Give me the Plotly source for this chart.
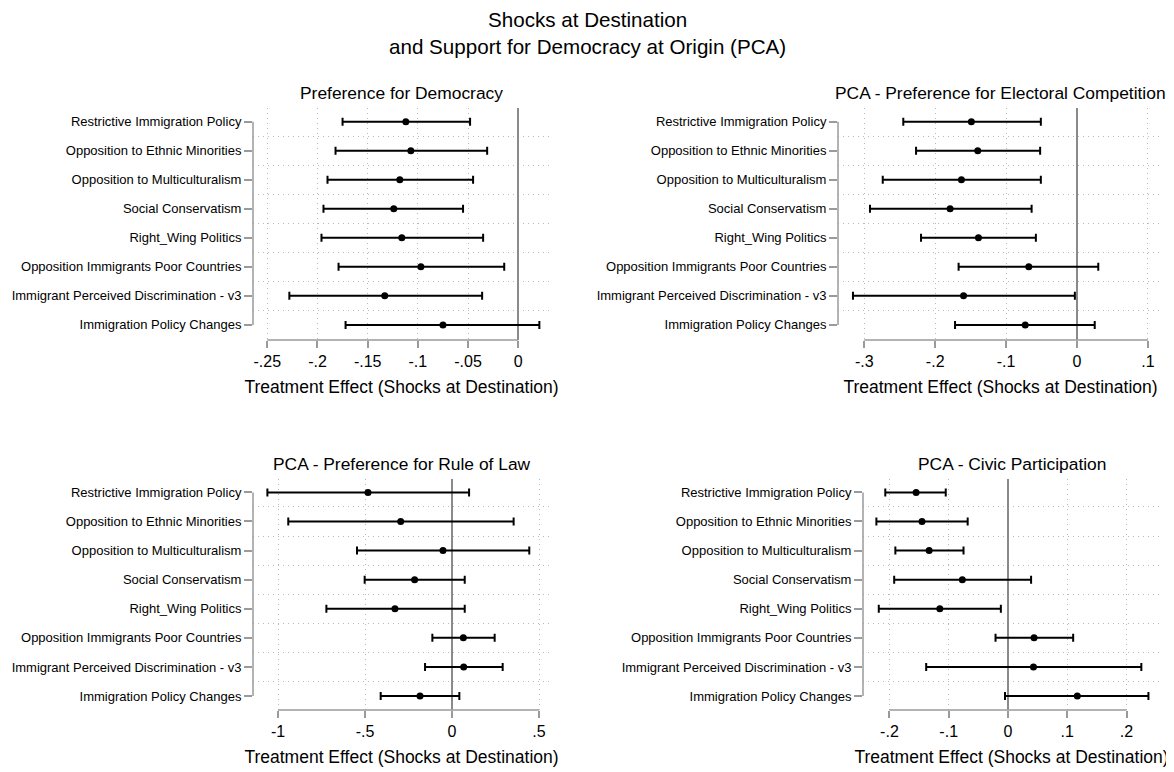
import plotly.graph_objects as go

# page offset (browser body margin) and figure size
OFF = 8
W, H = 1174 - OFF, 772 - OFF

categories = [
    "Restrictive Immigration Policy",
    "Opposition to Ethnic Minorities",
    "Opposition to Multiculturalism",
    "Social Conservatism",
    "Right_Wing Politics",
    "Opposition Immigrants Poor Countries",
    "Immigrant Perceived Discrimination - v3",
    "Immigration Policy Changes",
]

panel_titles = [
    "Preference for Democracy",
    "PCA - Preference for Electoral Competition",
    "PCA - Preference for Rule of Law",
    "PCA - Civic Participation",
]

# Panel 1: Preference for Democracy
dem_est = [-0.112, -0.107, -0.118, -0.124, -0.116, -0.097, -0.133, -0.075]
dem_lo = [-0.175, -0.182, -0.190, -0.194, -0.196, -0.179, -0.228, -0.172]
dem_hi = [-0.048, -0.031, -0.045, -0.055, -0.035, -0.014, -0.036, 0.021]

# Panel 2: Electoral Competition
ele_est = [-0.149, -0.140, -0.163, -0.179, -0.139, -0.068, -0.160, -0.073]
ele_lo = [-0.245, -0.227, -0.274, -0.292, -0.220, -0.167, -0.316, -0.172]
ele_hi = [-0.051, -0.052, -0.051, -0.064, -0.058, 0.030, -0.003, 0.025]

# Panel 3: Rule of Law
law_est = [-0.483, -0.295, -0.052, -0.215, -0.328, 0.065, 0.067, -0.184]
law_lo = [-1.061, -0.941, -0.546, -0.502, -0.722, -0.113, -0.155, -0.410]
law_hi = [0.098, 0.354, 0.444, 0.073, 0.073, 0.245, 0.291, 0.042]

# Panel 4: Civic Participation
civ_est = [-0.155, -0.145, -0.133, -0.077, -0.115, 0.044, 0.043, 0.117]
civ_lo = [-0.207, -0.222, -0.190, -0.192, -0.218, -0.021, -0.138, -0.005]
civ_hi = [-0.105, -0.068, -0.075, 0.039, -0.012, 0.110, 0.225, 0.237]

tick_vals = [
    [-0.25, -0.2, -0.15, -0.1, -0.05, 0],
    [-0.3, -0.2, -0.1, 0, 0.1],
    [-1, -0.5, 0, 0.5],
    [-0.2, -0.1, 0, 0.1, 0.2],
]
tick_text = [
    ["-.25", "-.2", "-.15", "-.1", "-.05", "0"],
    ["-.3", "-.2", "-.1", "0", ".1"],
    ["-1", "-.5", "0", ".5"],
    ["-.2", "-.1", "0", ".1", ".2"],
]

# layout geometry (page pixels)
x_dom_px = [(253, 550), (838, 1163), (253, 550), (863, 1160)]
x_ranges = [(-0.2642, 0.0316), (-0.3371, 0.1213), (-1.1437, 0.563), (-0.2446, 0.2565)]
y_dom_px = [(108, 340), (108, 340), (479, 710), (479, 710)]
y_ranges = [(7.52, -0.47), (7.52, -0.47), (7.48, -0.46), (7.48, -0.46)]


def px_x(x):
    return (x - OFF) / W


def px_y(y):
    return 1 - (y - OFF) / H


est_list = [dem_est, ele_est, law_est, civ_est]
lo_list = [dem_lo, ele_lo, law_lo, civ_lo]
hi_list = [dem_hi, ele_hi, law_hi, civ_hi]

FONT = "Liberation Sans, Arial, Helvetica, sans-serif"
AXC = "#9a9a9a"
GRIDC = "#b8b8b8"
GRIDDASH = "1px,4px"

fig = go.Figure()
layout = dict(
    width=W, height=H, autosize=False,
    margin=dict(l=0, r=0, t=0, b=0),
    paper_bgcolor="white", plot_bgcolor="white",
    font=dict(family=FONT, color="black"),
    showlegend=False,
)
annotations = []
shapes = []

ypos = list(range(len(categories)))

for i in range(4):
    xa = "x" if i == 0 else f"x{i+1}"
    ya = "y" if i == 0 else f"y{i+1}"
    xkey = "xaxis" if i == 0 else f"xaxis{i+1}"
    ykey = "yaxis" if i == 0 else f"yaxis{i+1}"
    est, lo, hi = est_list[i], lo_list[i], hi_list[i]
    plus = [h - e for h, e in zip(hi, est)]
    minus = [e - l for e, l in zip(est, lo)]
    fig.add_trace(go.Scatter(
        x=est, y=ypos, xaxis=xa, yaxis=ya, mode="markers",
        marker=dict(color="black", size=7),
        error_x=dict(type="data", symmetric=False, array=plus, arrayminus=minus,
                     color="black", thickness=2, width=4),
        hoverinfo="skip",
    ))
    x0, x1 = x_dom_px[i]
    yt, yb = y_dom_px[i]
    layout[xkey] = dict(
        domain=[px_x(x0), px_x(x1)], range=list(x_ranges[i]), anchor=ya,
        tickmode="array", tickvals=tick_vals[i], ticktext=tick_text[i],
        ticks="outside", ticklen=7, tickcolor=AXC, tickwidth=1.5,
        tickfont=dict(size=16, family=FONT),
        showgrid=True, gridcolor=GRIDC, griddash=GRIDDASH, gridwidth=1,
        zeroline=True, zerolinecolor="#8a8a8a", zerolinewidth=1.5,
        showline=False, fixedrange=True,
        title=dict(text="Treatment Effect (Shocks at Destination)",
                   font=dict(size=17.5, family=FONT), standoff=11),
    )
    layout[ykey] = dict(
        domain=[px_y(yb), px_y(yt)], range=list(y_ranges[i]), anchor=xa,
        tickmode="array", tickvals=ypos, ticktext=categories,
        ticks="outside", ticklen=8, tickcolor=AXC, tickwidth=1.5,
        tickfont=dict(size=13, family=FONT),
        showgrid=False, zeroline=False, showline=False, fixedrange=True,
        minor=dict(tickmode="array", tickvals=[k + 0.5 for k in range(len(categories) - 1)],
                   showgrid=True, gridcolor=GRIDC, griddash=GRIDDASH, gridwidth=1, ticks=""),
    )
    # Stata-style axis lines spanning only the tick range
    shapes.append(dict(type="line", xref=xa, yref=f"{ya} domain",
                       x0=tick_vals[i][0], x1=tick_vals[i][-1], y0=0, y1=0,
                       line=dict(color=AXC, width=1.5)))
    shapes.append(dict(type="line", xref=f"{xa} domain", yref=ya,
                       x0=0, x1=0, y0=ypos[0], y1=ypos[-1],
                       line=dict(color=AXC, width=1.5)))
    # panel title
    annotations.append(dict(text=panel_titles[i], xref="paper", yref="paper",
                            x=px_x((x0 + x1) / 2), y=px_y(yt - 15),
                            xanchor="center", yanchor="middle", showarrow=False,
                            font=dict(size=17.4, family=FONT)))

annotations.append(dict(text="Shocks at Destination<br>and Support for Democracy at Origin (PCA)",
                        xref="paper", yref="paper", x=px_x(587), y=px_y(33),
                        xanchor="center", yanchor="middle", showarrow=False,
                        font=dict(size=20.6, family=FONT)))

layout["annotations"] = annotations
layout["shapes"] = shapes
fig.update_layout(**layout)
fig.write_html("out.html")
